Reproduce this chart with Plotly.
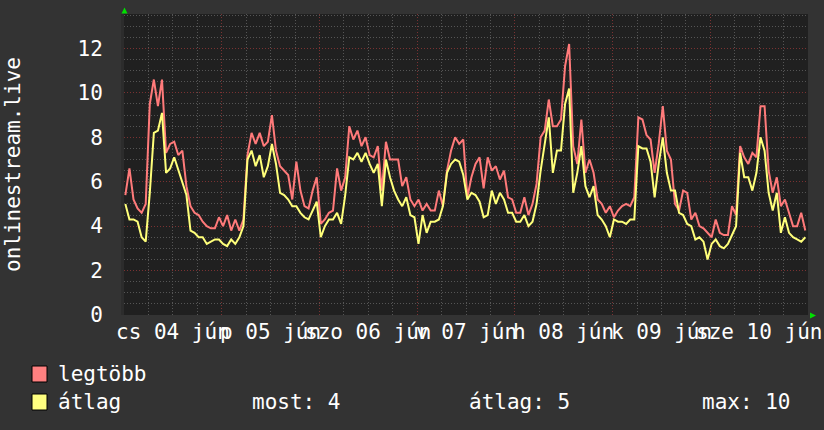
import pandas as pd
import plotly.graph_objects as go

# ---------------- data (hourly, 2020-06-04 00:00 .. 2020-06-10 23:00) ----------------
start = "2020-06-04 00:00"
max_vals = [
    5.4, 6.6, 5.2, 4.8, 4.6, 5.0, 9.5, 10.6, 9.4, 10.6,
    7.3, 7.7, 7.8, 7.2, 7.4, 5.8, 4.9, 4.6, 4.5, 4.2,
    4.0, 3.9, 3.9, 4.4, 4.0, 4.5, 3.8, 4.3, 3.8, 4.3,
    7.2, 8.2, 7.7, 8.2, 7.6, 7.8, 9.0, 7.4, 6.7, 6.5,
    6.3, 5.2, 6.9, 5.6, 4.9, 4.8, 5.6, 6.2, 4.1, 4.3,
    4.6, 4.7, 6.6, 5.6, 6.2, 8.5, 7.9, 8.3, 7.6, 8.0,
    7.2, 7.1, 7.6, 5.6, 7.8, 7.0, 7.0, 7.0, 5.8, 6.2,
    5.2, 4.9, 5.2, 4.7, 5.0, 4.7, 4.7, 5.6, 4.9, 6.5,
    7.4, 8.0, 7.7, 7.9, 5.3, 6.2, 6.8, 7.1, 5.7, 7.1,
    6.5, 6.7, 6.1, 6.5, 5.3, 5.2, 4.6, 4.6, 5.3, 4.5,
    5.0, 5.9, 8.0, 8.3, 9.7, 8.5, 8.5, 8.8, 11.2, 12.2,
    7.6, 6.8, 8.8, 6.4, 7.0, 6.4, 5.2, 5.0, 4.6, 4.9,
    4.4, 4.7, 4.9, 5.0, 4.9, 5.3, 8.9, 8.8, 8.1, 7.9,
    6.4, 7.7, 9.4, 7.4, 7.0, 5.0, 4.7, 5.6, 5.5, 4.3,
    4.6, 4.0, 3.9, 3.7, 3.5, 4.3, 3.7, 3.6, 3.6, 4.9,
    4.5, 7.6, 7.1, 6.8, 7.3, 7.1, 9.4, 9.4, 6.5, 5.5,
    6.2, 4.9, 5.2, 4.6, 4.0, 4.0, 4.6, 3.8,
]
avg_vals = [
    5.0, 4.3, 4.3, 4.2, 3.5, 3.3, 5.5, 8.2, 8.3, 9.1,
    6.4, 6.6, 7.1, 6.5, 6.0, 5.4, 3.8, 3.7, 3.5, 3.5,
    3.2, 3.3, 3.4, 3.4, 3.2, 3.1, 3.4, 3.2, 3.5, 4.0,
    7.0, 7.4, 6.7, 7.2, 6.2, 6.7, 7.7, 6.8, 5.5, 5.4,
    5.2, 4.9, 4.9, 4.6, 4.4, 4.3, 4.7, 5.1, 3.5, 4.0,
    4.3, 4.3, 4.6, 4.1, 5.4, 7.1, 7.0, 7.3, 6.9, 7.3,
    6.8, 6.4, 6.8, 4.9, 7.0, 6.2, 5.6, 5.2, 4.9, 5.3,
    4.5, 4.4, 3.2, 4.5, 3.7, 4.2, 4.2, 4.3, 4.9, 6.4,
    6.8, 7.0, 6.9, 6.3, 5.2, 5.5, 5.4, 5.1, 4.4, 4.5,
    5.6, 5.0, 5.5, 5.2, 4.6, 4.6, 4.2, 4.2, 4.5, 4.0,
    4.2, 5.0, 6.5, 7.6, 8.9, 6.4, 7.4, 7.4, 9.5, 10.2,
    5.5, 6.4, 7.6, 5.8, 5.3, 5.8, 4.5, 4.3, 4.0, 3.5,
    4.3, 4.2, 4.2, 4.1, 4.3, 4.3, 7.6, 7.5, 7.5, 6.9,
    5.3, 6.8, 8.0, 6.4, 5.6, 5.6, 4.6, 4.5, 4.1, 4.0,
    3.4, 3.5, 3.3, 2.5, 3.2, 3.4, 3.1, 3.0, 3.2, 3.6,
    4.0, 7.3, 6.2, 6.2, 5.6, 6.4, 8.0, 7.4, 5.5, 4.7,
    5.5, 3.7, 4.4, 3.7, 3.5, 3.4, 3.3, 3.5,
]
day_labels = ["cs 04 jún", "p 05 jún", "szo 06 jún", "v 07 jún",
              "h 08 jún", "k 09 jún", "sze 10 jún"]
series_names = ["legtöbb", "átlag"]
stats_labels = ["most: 4", "átlag: 5", "max: 10"]
y_title = "onlinestream.live"

# ---------------- styling ----------------
W, H = 824, 430
L, R, T, B = 124, 16, 14, 115
PW, PH = W - L - R, H - T - B
FONT = "DejaVu Sans Mono"
OUTER = "#333333"
CANVAS = "#202020"
RED = "#ff7a7a"
YEL = "#ffff7a"

def px(xp):
    return (xp - L) / PW

def py(yp):
    return (H - B - yp) / PH

times = pd.date_range(start, periods=len(max_vals), freq="h")
end = times[-1] + pd.Timedelta(hours=1)
xs = times + pd.Timedelta(minutes=20)

fig = go.Figure()
fig.add_trace(go.Scatter(x=xs, y=max_vals, mode="lines",
                         line=dict(color=RED, width=2, shape="linear"),
                         name=series_names[0], hoverinfo="skip"))
fig.add_trace(go.Scatter(x=xs, y=avg_vals, mode="lines",
                         line=dict(color=YEL, width=2, shape="linear"),
                         name=series_names[1], hoverinfo="skip"))

fig.update_layout(
    width=W, height=H,
    margin=dict(l=L, r=R, t=T, b=B, pad=0),
    paper_bgcolor=OUTER, plot_bgcolor=CANVAS,
    showlegend=False,
    font=dict(family=FONT, size=21, color="#ffffff"),
)
fig.update_xaxes(
    type="date", range=[times[0], end],
    tick0=times[0], dtick=86400000,
    showticklabels=False, ticks="",
    showgrid=True, gridcolor="#7a3232", griddash="1px,2px", gridwidth=1,
    minor=dict(dtick=6 * 3600000, showgrid=True, gridcolor="#555555",
               griddash="1px,2px", gridwidth=1),
    zeroline=False, showline=False,
)
fig.update_yaxes(
    range=[0, 13.55], tick0=0, dtick=2,
    ticks="outside", ticklen=14, tickcolor="rgba(0,0,0,0)",
    tickfont=dict(family=FONT, size=21, color="#ffffff"),
    showgrid=True, gridcolor="#7a3232", griddash="1px,2px", gridwidth=1,
    minor=dict(dtick=0.5, showgrid=True, gridcolor="#555555",
               griddash="1px,2px", gridwidth=1),
    zeroline=False, showline=True, linecolor="#2c2c2c", linewidth=3,
)

ann = []
# x labels centred at noon of each day
for i, lab in enumerate(day_labels):
    xc = times[0] + pd.Timedelta(hours=24 * i + 12)
    ann.append(dict(x=xc, xref="x", y=0, yref="paper", yanchor="middle",
                    yshift=-17, text=lab, showarrow=False,
                    font=dict(family=FONT, size=21, color="#ffffff")))
# y axis title
ann.append(dict(x=px(13), y=py(165), xref="paper", yref="paper",
                text=y_title, textangle=-90, showarrow=False,
                xanchor="center", yanchor="middle",
                font=dict(family=FONT, size=21, color="#ffffff")))
# legend texts
legend_rows = [374, 402]
for name, yy in zip(series_names, legend_rows):
    ann.append(dict(x=px(56), y=py(yy), xref="paper", yref="paper",
                    text=name, showarrow=False, xanchor="left", yanchor="middle",
                    font=dict(family=FONT, size=21, color="#ffffff")))
for lab, xx in zip(stats_labels, [250, 467, 700]):
    ann.append(dict(x=px(xx), y=py(402), xref="paper", yref="paper",
                    text=lab, showarrow=False, xanchor="left", yanchor="middle",
                    font=dict(family=FONT, size=21, color="#ffffff")))

shapes = []
for col, yy in zip(["#ff8080", "#ffff80"], legend_rows):
    shapes.append(dict(type="rect", xref="paper", yref="paper",
                       x0=px(32), x1=px(47), y0=py(yy - 8), y1=py(yy + 8),
                       fillcolor=col, line=dict(color="#000000", width=1)))
# green axis arrows
shapes.append(dict(type="path", xref="paper", yref="paper",
                   path=f"M {px(121.5)} {py(13.5)} L {px(127.5)} {py(13.5)} L {px(124.5)} {py(7.5)} Z",
                   fillcolor="#00e000", line=dict(width=0)))
shapes.append(dict(type="path", xref="paper", yref="paper",
                   path=f"M {px(810)} {py(312.5)} L {px(810)} {py(318.5)} L {px(816)} {py(315.5)} Z",
                   fillcolor="#00e000", line=dict(width=0)))

fig.update_layout(annotations=ann, shapes=shapes)
fig.write_html("out.html", config={"displayModeBar": False, "staticPlot": True})
